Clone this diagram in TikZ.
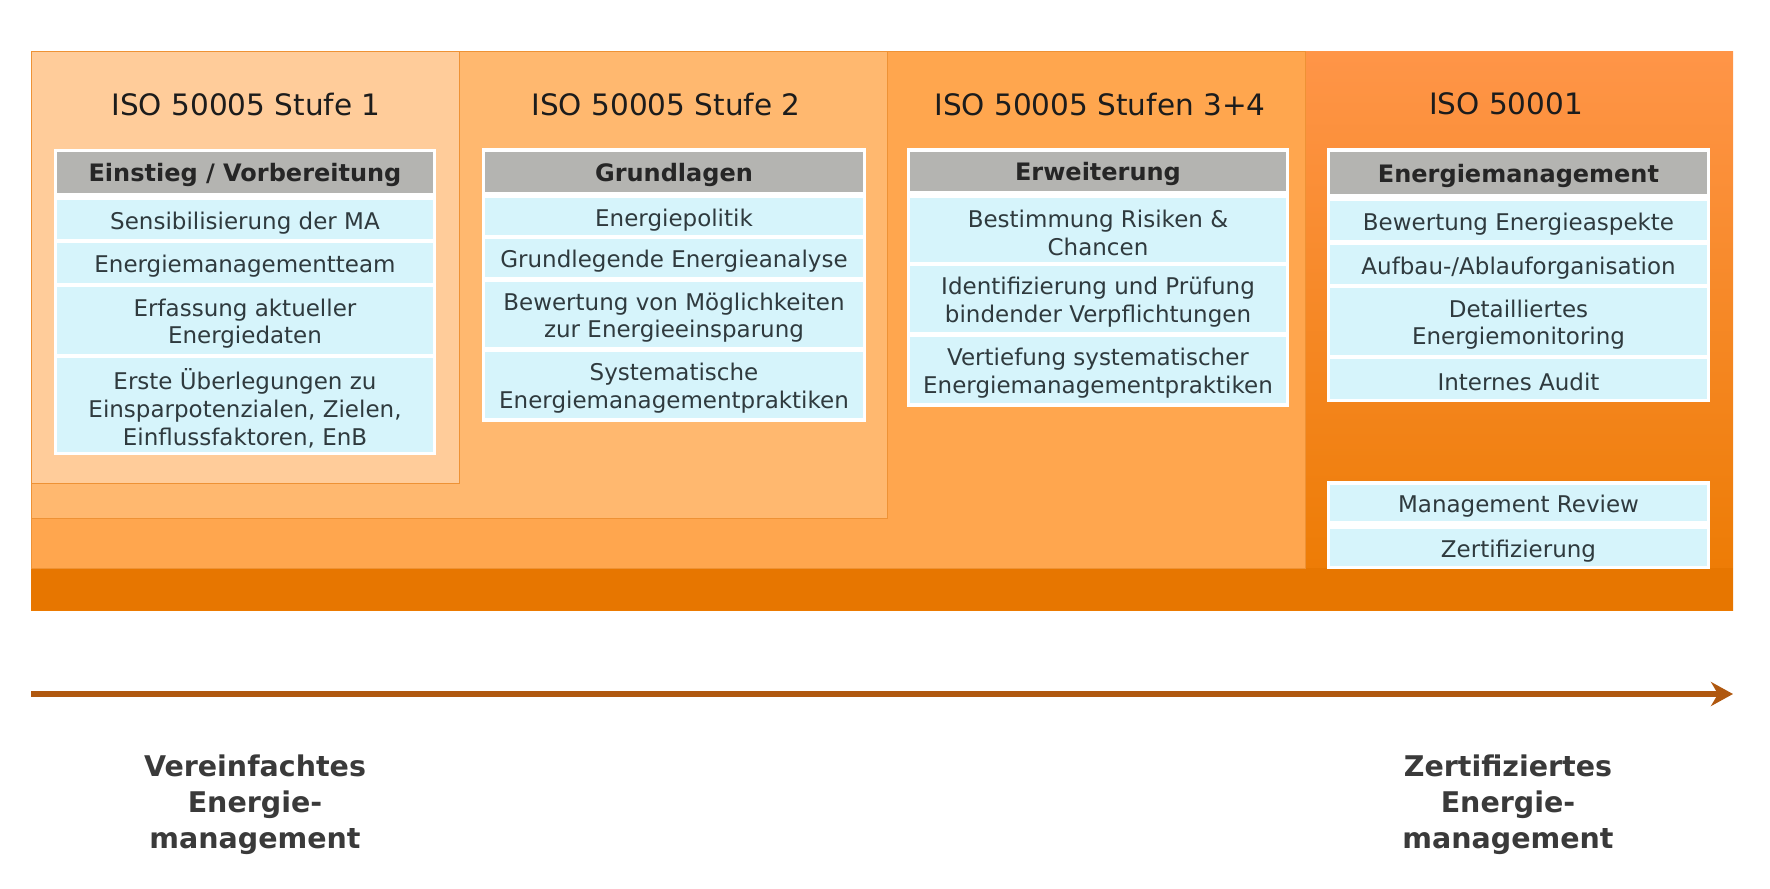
\documentclass[tikz,border=0pt]{standalone}
\usepackage{fontspec}
\setmainfont{DejaVu Sans}
\usetikzlibrary{arrows.meta}
\definecolor{outertop}{HTML}{FF9548}
\definecolor{outerbot}{HTML}{EC7A00}
\definecolor{bandc}{HTML}{E77600}
\definecolor{stagethree}{HTML}{FFA64E}
\definecolor{stagetwo}{HTML}{FFB86F}
\definecolor{stageone}{HTML}{FFCC9A}
\definecolor{panelline}{HTML}{EE9235}
\definecolor{hdrgray}{HTML}{B4B4B1}
\definecolor{cellc}{HTML}{D6F4FB}
\definecolor{titlec}{HTML}{1C1C1C}
\definecolor{cellt}{HTML}{2F3A3E}
\definecolor{hdrt}{HTML}{262626}
\definecolor{arrowc}{HTML}{B0580F}
\definecolor{labelc}{HTML}{3A3A3A}
\begin{document}
\begin{tikzpicture}[x=1pt,y=-1pt,
  panel/.style={draw=panelline, line width=1pt},
  ttl/.style={font=\fontsize{29.5}{35}\selectfont, text=titlec, inner sep=0},
  tablebg/.style={fill=white, draw=none},
  hdrbox/.style={fill=hdrgray, inner sep=0},
  hdrtext/.style={inner sep=0, text=hdrt, font=\fontsize{24}{29}\selectfont\bfseries, align=center},
  cellbox/.style={fill=cellc, inner sep=0},
  celltext/.style={inner sep=0, text=cellt, font=\fontsize{23}{27.7}\selectfont, align=center},
  botlabel/.style={font=\fontsize{28.5}{36}\selectfont\bfseries, text=labelc, align=center, inner sep=0}]
\newcommand{\hdrrow}[6]{%
  \node[hdrbox, minimum width=#4pt, minimum height=#5pt] (#1) at (#2,#3) {};
  \node[hdrtext] (#1t) at ([yshift=-2.8pt]#1.center) {#6};}
\newcommand{\cellrow}[6]{%
  \node[cellbox, minimum width=#4pt, minimum height=#5pt] (#1) at (#2,#3) {};
  \node[celltext] (#1t) at ([yshift=-3.2pt]#1.center) {#6};}
\useasboundingbox (0,0) rectangle (1770,889);

% panels
\shade[top color=outertop, bottom color=outerbot] (31,51) rectangle (1733,610);
\fill[bandc] (31,568) rectangle (1733,610);
\draw[panel, fill=stagethree] (31,51) rectangle (1305,568);
\draw[panel, fill=stagetwo] (31,51) rectangle (887,518);
\draw[panel, fill=stageone] (31,51) rectangle (459,483);

% titles
\node[ttl] (t1) at (246,104) {ISO 50005 Stufe 1};
\node[ttl] (t2) at (666,104) {ISO 50005 Stufe 2};
\node[ttl] (t3) at (1100,104) {ISO 50005 Stufen 3+4};
\node[ttl] (t4) at (1506,104) {ISO 50001};

% table 1
\fill[tablebg] (54,149) rectangle (436,455);
\hdrrow{a0}{245}{172.5}{376}{41}{Einstieg / Vorbereitung}
\cellrow{a1}{245}{219.5}{376}{39}{Sensibilisierung der MA}
\cellrow{a2}{245}{263}{376}{40}{Energiemanagementteam}
\cellrow{a3}{245}{320.5}{376}{67}{Erfassung aktueller\\Energiedaten}
\cellrow{a4}{245}{405}{376}{94}{Erste Überlegungen zu\\Einsparpotenzialen, Zielen,\\Einflussfaktoren, EnB}

% table 2
\fill[tablebg] (482,148) rectangle (866,422);
\hdrrow{b0}{674}{172}{378}{40}{Grundlagen}
\cellrow{b1}{674}{216.5}{378}{37}{Energiepolitik}
\cellrow{b2}{674}{258}{378}{38}{Grundlegende Energieanalyse}
\cellrow{b3}{674}{314.5}{378}{65}{Bewertung von Möglichkeiten\\zur Energieeinsparung}
\cellrow{b4}{674}{385}{378}{66}{Systematische\\Energiemanagementpraktiken}

% table 3
\fill[tablebg] (907,148) rectangle (1289,407);
\hdrrow{c0}{1098}{171.5}{376}{39}{Erweiterung}
\cellrow{c1}{1098}{230}{376}{64}{Bestimmung Risiken \&\\Chancen}
\cellrow{c2}{1098}{299}{376}{66}{Identifizierung und Prüfung\\bindender Verpflichtungen}
\cellrow{c3}{1098}{370}{376}{66}{Vertiefung systematischer\\Energiemanagementpraktiken}

% table 4
\fill[tablebg] (1327,148) rectangle (1710,402);
\hdrrow{d0}{1518.5}{173}{377}{42}{Energiemanagement}
\cellrow{d1}{1518.5}{220.5}{377}{39}{Bewertung Energieaspekte}
\cellrow{d2}{1518.5}{264.5}{377}{39}{Aufbau-/Ablauforganisation}
\cellrow{d3}{1518.5}{321.5}{377}{67}{Detailliertes\\Energiemonitoring}
\cellrow{d4}{1518.5}{379}{377}{40}{Internes Audit}

% table 5
\fill[tablebg] (1327,481) rectangle (1710,569);
\cellrow{e1}{1518.5}{503}{377}{36}{Management Review}
\cellrow{e2}{1518.5}{547.5}{377}{37}{Zertifizierung}

% arrow
\coordinate (arrS) at (31,694);
\coordinate (arrE) at (1733,694);
\draw[arrowc, line width=6pt, -{Stealth[length=22pt,width=24pt,inset=7pt]}] (arrS) -- (arrE);

% bottom labels
\node[botlabel] (l1) at (255,805) {Vereinfachtes\\Energie-\\management};
\node[botlabel] (l2) at (1508,805) {Zertifiziertes\\Energie-\\management};
\end{tikzpicture}
\end{document}
